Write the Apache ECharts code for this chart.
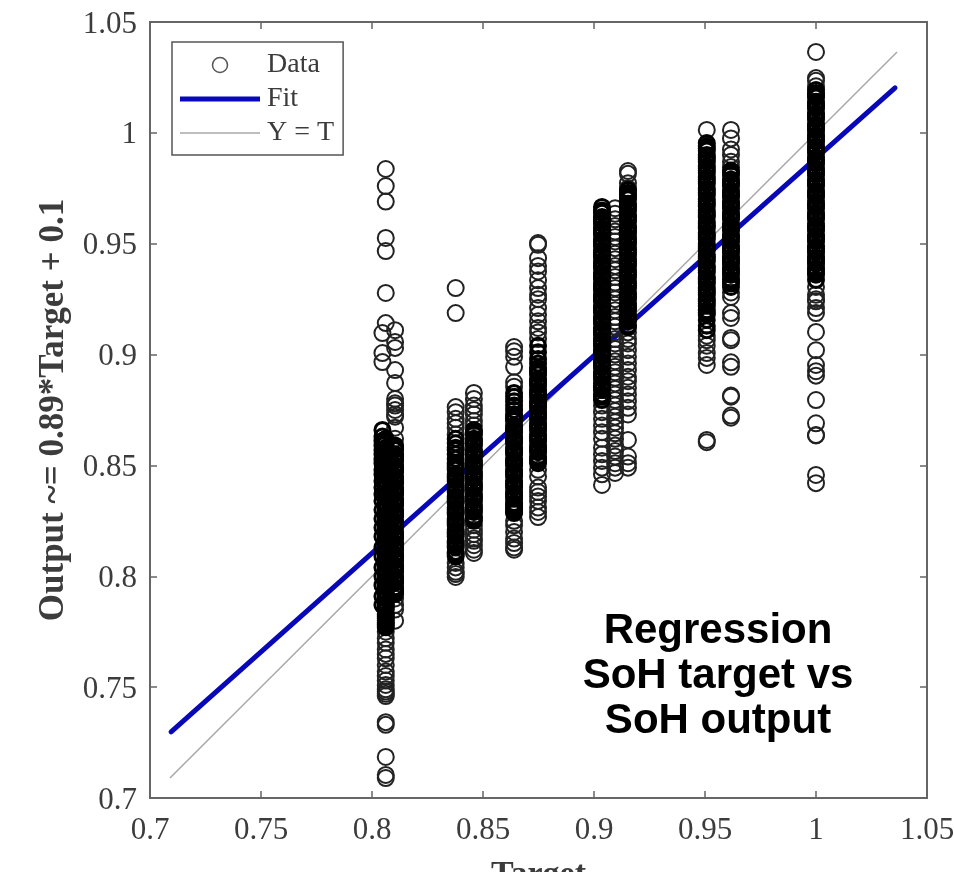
<!DOCTYPE html>
<html>
<head>
<meta charset="utf-8">
<title>Regression SoH target vs SoH output</title>
<script src="https://cdn.jsdelivr.net/npm/echarts@6/dist/echarts.min.js"></script>
<style>
  html, body { margin: 0; padding: 0; background: #fff; overflow: hidden; }
  #chart { width: 954px; height: 872px; filter: blur(0.5px); }
</style>
</head>
<body>
<div id="chart"></div>
<script>
// output values. ringNNNN = points that can be told apart, bandNNNN = the solid black part
const targets = [0.8047, 0.8062, 0.8104, 0.8377, 0.8459, 0.864, 0.8748, 0.9036, 0.9095, 0.9153, 0.9508, 0.9617, 1];

const ring8047 = [0.9097, 0.9007, 0.8966];
const band8047 = [0.866, 0.863, 0.861, 0.859, 0.857, 0.855, 0.853, 0.851, 0.848, 0.846, 0.843, 0.84, 0.837, 0.834, 0.83, 0.826, 0.822, 0.818, 0.813, 0.809, 0.804, 0.8, 0.796, 0.791, 0.787];
const ring8062 = [0.9837, 0.976, 0.969, 0.9526, 0.9467, 0.9278, 0.9142, 0.775, 0.772, 0.77, 0.767, 0.765, 0.763, 0.76, 0.757, 0.755, 0.753, 0.751, 0.749, 0.748, 0.747, 0.746, 0.7342, 0.733, 0.7185, 0.7104, 0.709];
const band8062 = [0.862, 0.861, 0.86, 0.858, 0.857, 0.856, 0.855, 0.853, 0.852, 0.851, 0.85, 0.848, 0.847, 0.846, 0.845, 0.843, 0.842, 0.841, 0.84, 0.838, 0.837, 0.836, 0.835, 0.833, 0.832, 0.831, 0.83, 0.828, 0.827, 0.826, 0.825, 0.823, 0.822, 0.821, 0.82, 0.818, 0.817, 0.816, 0.815, 0.813, 0.812, 0.811, 0.81, 0.808, 0.807, 0.806, 0.805, 0.803, 0.802, 0.801, 0.8, 0.798, 0.797, 0.796, 0.795, 0.793, 0.792, 0.791, 0.79, 0.788, 0.787, 0.786, 0.785, 0.783, 0.782, 0.781, 0.78, 0.779, 0.778, 0.777];
const ring8104 = [0.911, 0.9057, 0.903, 0.893, 0.8872, 0.88, 0.878, 0.877, 0.875, 0.873, 0.872, 0.867, 0.862, 0.79, 0.787, 0.785, 0.78];
const band8104 = [0.859, 0.858, 0.857, 0.855, 0.854, 0.853, 0.852, 0.85, 0.849, 0.848, 0.847, 0.845, 0.844, 0.843, 0.842, 0.84, 0.839, 0.838, 0.837, 0.835, 0.834, 0.833, 0.832, 0.83, 0.829, 0.828, 0.827, 0.825, 0.824, 0.823, 0.822, 0.82, 0.819, 0.818, 0.817, 0.815, 0.814, 0.813, 0.812, 0.81, 0.809, 0.808, 0.807, 0.805, 0.804, 0.803, 0.802, 0.8, 0.799, 0.798, 0.797, 0.795, 0.794, 0.793, 0.792];
const ring8377 = [0.93, 0.9187, 0.8763, 0.874, 0.871, 0.869, 0.867, 0.864, 0.806, 0.804, 0.802, 0.801, 0.7997];
const band8377 = [0.862, 0.86, 0.858, 0.857, 0.855, 0.853, 0.851, 0.85, 0.849, 0.848, 0.846, 0.845, 0.844, 0.843, 0.841, 0.84, 0.839, 0.838, 0.836, 0.835, 0.834, 0.833, 0.831, 0.83, 0.829, 0.828, 0.826, 0.825, 0.824, 0.823, 0.821, 0.82, 0.819, 0.818, 0.816, 0.815, 0.814, 0.813, 0.811, 0.81, 0.809];
const ring8459 = [0.8827, 0.88, 0.877, 0.875, 0.873, 0.87, 0.868, 0.823, 0.821, 0.819, 0.817, 0.816, 0.814, 0.812, 0.8105];
const band8459 = [0.866, 0.865, 0.864, 0.862, 0.861, 0.86, 0.859, 0.857, 0.856, 0.855, 0.854, 0.852, 0.851, 0.85, 0.849, 0.847, 0.846, 0.845, 0.844, 0.842, 0.841, 0.84, 0.839, 0.837, 0.836, 0.835, 0.834, 0.832, 0.831, 0.83, 0.829, 0.827, 0.826, 0.825];
const ring8640 = [0.9034, 0.9015, 0.899, 0.8945, 0.8875, 0.8855, 0.825, 0.823, 0.82, 0.817, 0.815, 0.813, 0.812];
const band8640 = [0.8827, 0.881, 0.879, 0.877, 0.875, 0.873, 0.8718, 0.871, 0.87, 0.868, 0.867, 0.866, 0.865, 0.863, 0.862, 0.861, 0.86, 0.858, 0.857, 0.856, 0.855, 0.853, 0.852, 0.851, 0.85, 0.848, 0.847, 0.846, 0.845, 0.843, 0.842, 0.841, 0.84, 0.838, 0.837, 0.836, 0.835, 0.833, 0.832, 0.831, 0.83, 0.829, 0.8285];
const ring8748 = [0.9503, 0.9495, 0.9435, 0.94, 0.9375, 0.9335, 0.93, 0.927, 0.925, 0.921, 0.918, 0.915, 0.912, 0.91, 0.907, 0.848, 0.845, 0.84, 0.838, 0.836, 0.834, 0.831, 0.829, 0.8267];
const band8748 = [0.904, 0.901, 0.898, 0.896, 0.894, 0.893, 0.892, 0.891, 0.889, 0.888, 0.887, 0.886, 0.884, 0.883, 0.882, 0.881, 0.879, 0.878, 0.877, 0.876, 0.874, 0.873, 0.872, 0.871, 0.869, 0.868, 0.867, 0.866, 0.864, 0.863, 0.862, 0.861, 0.859, 0.858, 0.857, 0.856, 0.854, 0.853, 0.852, 0.851];
const ring9036 = [0.877, 0.874, 0.871, 0.868, 0.865, 0.862, 0.858, 0.855, 0.852, 0.849, 0.846, 0.8412];
const band9036 = [0.9666, 0.965, 0.964, 0.962, 0.961, 0.96, 0.959, 0.957, 0.956, 0.955, 0.954, 0.952, 0.951, 0.95, 0.949, 0.947, 0.946, 0.945, 0.944, 0.942, 0.941, 0.94, 0.939, 0.937, 0.936, 0.935, 0.934, 0.932, 0.931, 0.93, 0.929, 0.927, 0.926, 0.925, 0.924, 0.922, 0.921, 0.92, 0.919, 0.917, 0.916, 0.915, 0.914, 0.912, 0.911, 0.91, 0.909, 0.907, 0.906, 0.905, 0.904, 0.902, 0.901, 0.9, 0.899, 0.897, 0.896, 0.895, 0.894, 0.892, 0.891, 0.89, 0.889, 0.887, 0.886, 0.885, 0.884, 0.882, 0.881, 0.8795];
const ring9095 = [0.966, 0.9635, 0.961, 0.958, 0.9555, 0.953, 0.951, 0.948, 0.9455, 0.943, 0.94, 0.938, 0.935, 0.9325, 0.93, 0.928, 0.925, 0.9225, 0.92, 0.917, 0.915, 0.9125, 0.91, 0.907, 0.905, 0.9025, 0.9, 0.897, 0.8945, 0.892, 0.8895, 0.887, 0.8845, 0.882, 0.8795, 0.877, 0.8745, 0.872, 0.8695, 0.867, 0.8645, 0.862, 0.859, 0.8565, 0.854, 0.851, 0.849, 0.8466];
const band9095 = [];
const ring9153 = [0.9828, 0.9815, 0.9773, 0.975, 0.91, 0.907, 0.905, 0.902, 0.899, 0.896, 0.893, 0.89, 0.888, 0.885, 0.882, 0.879, 0.876, 0.873, 0.8615, 0.854, 0.851, 0.849];
const band9153 = [0.9742, 0.973, 0.972, 0.971, 0.97, 0.968, 0.967, 0.966, 0.965, 0.963, 0.962, 0.961, 0.96, 0.958, 0.957, 0.956, 0.955, 0.953, 0.952, 0.951, 0.95, 0.948, 0.947, 0.946, 0.945, 0.943, 0.942, 0.941, 0.94, 0.938, 0.937, 0.936, 0.935, 0.933, 0.932, 0.931, 0.93, 0.928, 0.927, 0.926, 0.925, 0.923, 0.922, 0.921, 0.92, 0.918, 0.917, 0.916, 0.915, 0.913, 0.9124];
const ring9508 = [1.0013, 0.9085, 0.9065, 0.904, 0.9007, 0.8985, 0.8953, 0.8615, 0.8605];
const band9508 = [0.9954, 0.994, 0.993, 0.992, 0.99, 0.989, 0.988, 0.987, 0.985, 0.984, 0.983, 0.982, 0.98, 0.979, 0.978, 0.977, 0.975, 0.974, 0.973, 0.972, 0.97, 0.969, 0.968, 0.967, 0.965, 0.964, 0.963, 0.962, 0.96, 0.959, 0.958, 0.957, 0.955, 0.954, 0.953, 0.952, 0.95, 0.949, 0.948, 0.947, 0.945, 0.944, 0.943, 0.942, 0.94, 0.939, 0.938, 0.937, 0.935, 0.934, 0.933, 0.932, 0.93, 0.929, 0.928, 0.927, 0.925, 0.924, 0.923, 0.922, 0.92, 0.919, 0.918, 0.9156, 0.913, 0.911];
const ring9617 = [1.0013, 0.9975, 0.9925, 0.99, 0.987, 0.9846, 0.928, 0.926, 0.9187, 0.9165, 0.9075, 0.9065, 0.8965, 0.8945, 0.8815, 0.881, 0.8725, 0.8715];
const band9617 = [0.983, 0.982, 0.981, 0.979, 0.978, 0.977, 0.976, 0.974, 0.973, 0.972, 0.971, 0.969, 0.968, 0.967, 0.966, 0.964, 0.963, 0.962, 0.961, 0.959, 0.958, 0.957, 0.956, 0.954, 0.953, 0.952, 0.951, 0.949, 0.948, 0.947, 0.946, 0.944, 0.943, 0.942, 0.941, 0.939, 0.938, 0.937, 0.936, 0.934, 0.933, 0.932, 0.9305];
const ring1000 = [1.0365, 1.0247, 1.0235, 1.021, 0.9305, 0.927, 0.925, 0.924, 0.921, 0.9187, 0.9102, 0.902, 0.8953, 0.8925, 0.8905, 0.8795, 0.869, 0.8637, 0.8635, 0.8457, 0.842];
const band1000 = [1.0193, 1.018, 1.017, 1.016, 1.014, 1.013, 1.012, 1.011, 1.009, 1.008, 1.007, 1.006, 1.004, 1.003, 1.002, 1.001, 0.999, 0.998, 0.997, 0.996, 0.994, 0.993, 0.992, 0.991, 0.989, 0.988, 0.987, 0.986, 0.984, 0.983, 0.982, 0.981, 0.979, 0.978, 0.977, 0.976, 0.974, 0.973, 0.972, 0.971, 0.969, 0.968, 0.967, 0.966, 0.964, 0.963, 0.962, 0.961, 0.959, 0.958, 0.957, 0.956, 0.954, 0.953, 0.952, 0.951, 0.949, 0.948, 0.947, 0.946, 0.944, 0.943, 0.942, 0.941, 0.939, 0.938, 0.937, 0.936, 0.9336];

const rings = [ring8047, ring8062, ring8104, ring8377, ring8459, ring8640, ring8748, ring9036, ring9095, ring9153, ring9508, ring9617, ring1000];
const bands = [band8047, band8062, band8104, band8377, band8459, band8640, band8748, band9036, band9095, band9153, band9508, band9617, band1000];

const fitLine = [[0.7095, 0.7298], [1.0356, 1.0203]];
const identityLine = [[0.709, 0.709], [1.0365, 1.0365]];

const xTicks = { min: 0.7, max: 1.05, interval: 0.05 };
const yTicks = { min: 0.7, max: 1.05, interval: 0.05 };
const overlayText = 'Regression\nSoH target vs\nSoH output';

const toPoints = (lists) => {
  const pts = [];
  targets.forEach((t, i) => {
    lists[i].forEach((v) => pts.push([t, v]));
  });
  return pts;
};

const serif = '"Liberation Serif", serif';
const axisGray = '#666';
const labelColor = '#3c3c3c';
const fitColor = '#0808b8';
const identityColor = '#a8a8a8';

const chart = echarts.init(document.getElementById('chart'));

const tickOnly = {
  axisLine: { show: false },
  axisTick: { inside: true, length: 7, lineStyle: { color: axisGray, width: 1.5 } },
  axisLabel: { show: false },
  splitLine: { show: false },
};

chart.setOption({
  animation: false,
  backgroundColor: '#fff',
  grid: {
    show: true,
    left: 150,
    right: 27,
    top: 22,
    bottom: 74,
    outerBoundsMode: 'none',
    borderColor: axisGray,
    borderWidth: 2,
  },
  legend: {
    data: [
      { name: 'Data', icon: 'circle', itemStyle: { color: 'rgba(0,0,0,0)', borderColor: '#555', borderWidth: 1.5 } },
      { name: 'Fit', icon: 'path://M0 0H80V5H0Z', itemStyle: { color: fitColor, borderWidth: 0 } },
      { name: 'Y = T', icon: 'path://M0 0H80V1.5H0Z', itemStyle: { color: identityColor, borderWidth: 0 } },
    ],
    orient: 'vertical',
    left: 172,
    top: 42,
    padding: [9, 9, 8, 8],
    itemGap: 6,
    itemWidth: 80,
    itemHeight: 15,
    borderColor: '#555',
    borderWidth: 1.5,
    backgroundColor: '#fff',
    textStyle: { fontFamily: serif, fontSize: 28, color: labelColor, padding: [2, 0, 0, 2] },
  },
  xAxis: [
    {
      type: 'value',
      ...xTicks,
      name: 'Target',
      nameLocation: 'middle',
      nameGap: 60,
      nameTextStyle: { fontFamily: serif, fontSize: 34, fontWeight: 'bold', color: labelColor },
      axisLine: { show: false },
      axisTick: { inside: true, length: 7, lineStyle: { color: axisGray, width: 1.5 } },
      axisLabel: { fontFamily: serif, fontSize: 31, color: labelColor, margin: 17, showMinLabel: true, showMaxLabel: true },
      splitLine: { show: false },
    },
    { type: 'value', position: 'top', ...xTicks, ...tickOnly },
  ],
  yAxis: [
    {
      type: 'value',
      ...yTicks,
      name: 'Output ~= 0.89*Target + 0.1',
      nameLocation: 'middle',
      nameGap: 75,
      nameTextStyle: { fontFamily: serif, fontSize: 35, fontWeight: 'bold', color: labelColor },
      axisLine: { show: false },
      axisTick: { inside: true, length: 7, lineStyle: { color: axisGray, width: 1.5 } },
      axisLabel: {
        margin: 13,
        showMinLabel: true,
        showMaxLabel: true,
        formatter: '{a|{value}}',
        rich: { a: { fontFamily: serif, fontSize: 31, color: labelColor, padding: [5, 0, 0, 0] } },
      },
      splitLine: { show: false },
    },
    { type: 'value', position: 'right', ...yTicks, ...tickOnly },
  ],
  series: [
    {
      name: 'Y = T',
      type: 'line',
      data: identityLine,
      symbol: 'none',
      z: 1,
      lineStyle: { color: identityColor, width: 1.5 },
      itemStyle: { color: identityColor },
    },
    {
      name: 'Fit',
      type: 'line',
      data: fitLine,
      symbol: 'none',
      z: 2,
      lineStyle: { color: fitColor, width: 5, cap: 'round' },
      itemStyle: { color: fitColor },
    },
    {
      name: 'Data',
      type: 'scatter',
      data: toPoints(rings),
      z: 3,
      symbol: 'circle',
      symbolSize: 16,
      itemStyle: { color: 'rgba(0,0,0,0)', borderColor: '#222', borderWidth: 2, opacity: 1 },
      emphasis: { disabled: true },
    },
    {
      name: 'Data',
      type: 'scatter',
      data: toPoints(bands),
      z: 3,
      symbol: 'circle',
      symbolSize: 15,
      itemStyle: { color: 'rgba(0,0,0,0)', borderColor: '#000', borderWidth: 3, opacity: 1 },
      emphasis: { disabled: true },
    },
  ],
  graphic: [
    {
      type: 'text',
      x: 718,
      y: 609,
      z: 10,
      style: {
        text: overlayText,
        fontFamily: '"Liberation Sans", Arial, sans-serif',
        fontSize: 42,
        fontWeight: 'bold',
        lineHeight: 45,
        align: 'center',
        fill: '#000',
      },
    },
  ],
});
</script>
</body>
</html>
